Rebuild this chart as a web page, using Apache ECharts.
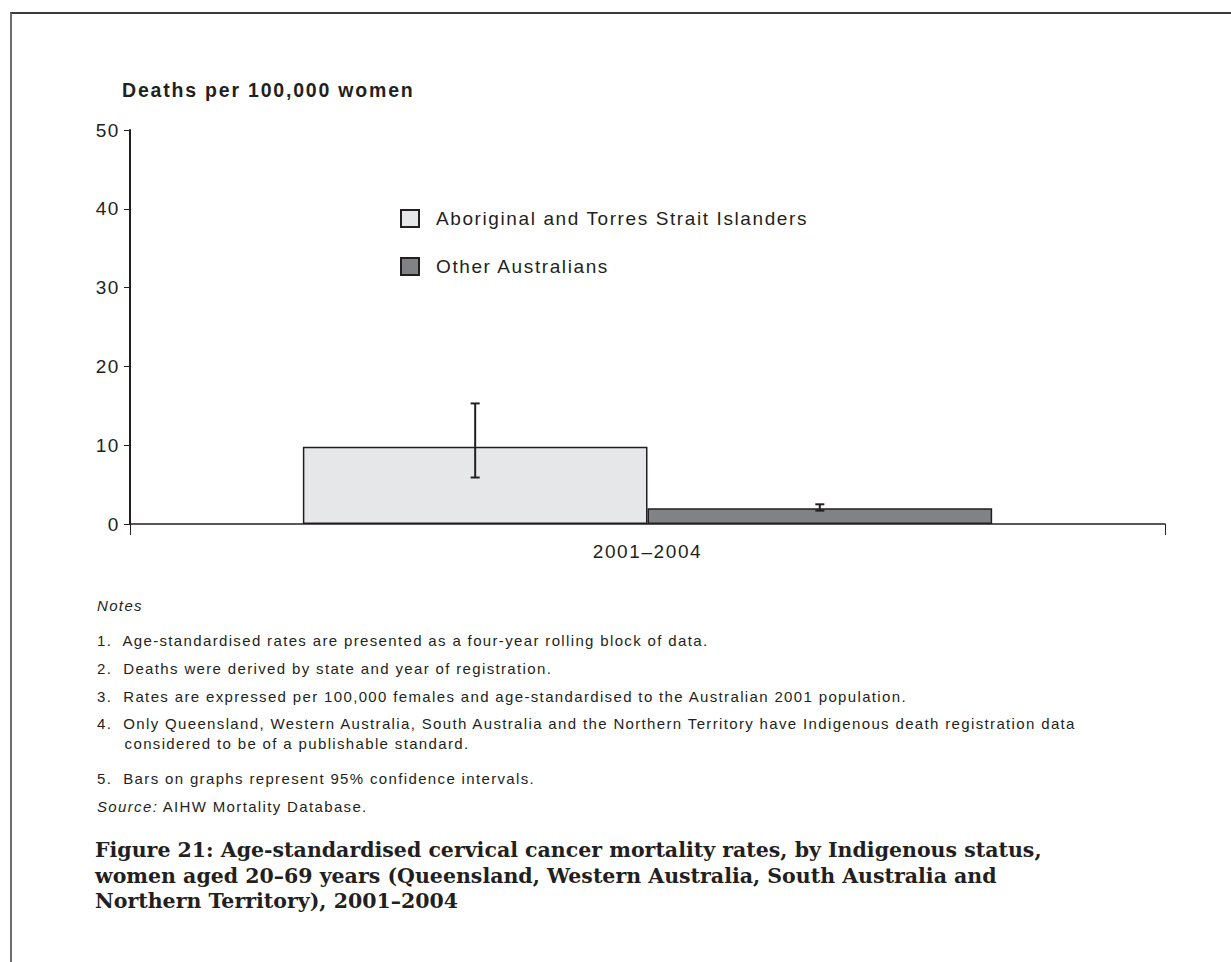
<!DOCTYPE html>
<html><head><meta charset="utf-8">
<script src="https://cdn.jsdelivr.net/npm/echarts@6/dist/echarts.min.js"></script>
<style>
html,body{margin:0;padding:0;background:#fff;}
#frame{position:absolute;left:10px;top:12px;width:1221px;height:950px;border-left:2px solid #6d6e71;border-top:2px solid #3a3a3a;box-sizing:border-box;}
#chart{position:absolute;left:0;top:0;width:1231px;height:962px;}
/* tracking of the original typesetting */
#chart text[style*="19px"]{letter-spacing:1.6px;}
#chart text[style*="19.5px"]{letter-spacing:1.8px;}
#chart text[style*="15px"]{letter-spacing:1.35px;}
</style></head>
<body><div id="frame"></div><div id="chart"></div>
<script>
// ---- data ----
const categories = ['2001–2004'];
const seriesNames = ['Aboriginal and Torres Strait Islanders', 'Other Australians'];
const indigenousRates = [9.8];
const otherRates = [2.0];
const indigenousCILow = [5.9];
const indigenousCIHigh = [15.3];
const otherCILow = [1.7];
const otherCIHigh = [2.5];
const yAxisTitle = 'Deaths per 100,000 women';
const notesHeading = 'Notes';
const notesLines = [
  '1.  Age-standardised rates are presented as a four-year rolling block of data.',
  '2.  Deaths were derived by state and year of registration.',
  '3.  Rates are expressed per 100,000 females and age-standardised to the Australian 2001 population.',
  '4.  Only Queensland, Western Australia, South Australia and the Northern Territory have Indigenous death registration data',
  '     considered to be of a publishable standard.',
  '5.  Bars on graphs represent 95% confidence intervals.'
];
const sourceLabel = 'Source:';
const sourceText = ' AIHW Mortality Database.';
const figureTitleLines = [
  'Figure 21: Age-standardised cervical cancer mortality rates, by Indigenous status,',
  'women aged 20–69 years (Queensland, Western Australia, South Australia and',
  'Northern Territory), 2001–2004'
];

// ---- layout/style ----
const INK = '#231f20';
const CAT_GAP = 0.334;
const chart = echarts.init(document.getElementById('chart'), null, {renderer: 'svg'});

function errorSeries(lows, highs, side) {
  return {
    type: 'custom',
    silent: true,
    z: 10,
    encode: {x: 0, y: [1, 2]},
    data: lows.map((lo, i) => [i, lo, highs[i]]),
    renderItem: function (params, api) {
      const idx = api.value(0);
      const pLo = api.coord([idx, api.value(1)]);
      const pHi = api.coord([idx, api.value(2)]);
      const band = api.size([1, 0])[0];
      const barW = band * (1 - CAT_GAP) / 2;
      const cx = pLo[0] + side * barW / 2;
      const cap = 4.5;
      const st = {stroke: INK, lineWidth: 2};
      return {type: 'group', children: [
        {type: 'line', shape: {x1: cx, y1: pHi[1], x2: cx, y2: pLo[1]}, style: st},
        {type: 'line', shape: {x1: cx - cap, y1: pHi[1], x2: cx + cap, y2: pHi[1]}, style: st},
        {type: 'line', shape: {x1: cx - cap, y1: pLo[1], x2: cx + cap, y2: pLo[1]}, style: st}
      ]};
    }
  };
}

const NOTE_FONT = {fontSize: 15, fontFamily: 'Liberation Sans', fill: INK};
const textEls = [];
textEls.push({type: 'text', x: 97, y: 605, style: Object.assign({text: notesHeading, fontStyle: 'italic', verticalAlign: 'middle'}, NOTE_FONT)});
const noteYs = [640, 668, 696, 723, 743, 778];
notesLines.forEach((t, i) => textEls.push({type: 'text', x: 97, y: noteYs[i], style: Object.assign({text: t, verticalAlign: 'middle'}, NOTE_FONT)}));
textEls.push({type: 'text', x: 97, y: 806, style: Object.assign({text: sourceLabel, fontStyle: 'italic', verticalAlign: 'middle'}, NOTE_FONT)});
textEls.push({type: 'text', x: 158, y: 806, style: Object.assign({text: sourceText, verticalAlign: 'middle'}, NOTE_FONT)});
const titleYs = [850, 876, 901];
figureTitleLines.forEach((t, i) => textEls.push({type: 'text', x: 95, y: titleYs[i], style: {text: t, fontSize: 20.5, fontWeight: 'bold', fontFamily: 'DejaVu Serif', fill: INK, verticalAlign: 'middle'}}));
textEls.push({type: 'text', x: 122, y: 90, style: {text: yAxisTitle, fontSize: 19.5, fontWeight: 'bold', fontFamily: 'Liberation Sans', fill: INK, verticalAlign: 'middle'}});

chart.setOption({
  animation: false,
  grid: {left: 130, right: 66, top: 130, bottom: 438},
  legend: {
    orient: 'vertical', left: 400, top: 209, padding: 0, itemWidth: 18, itemHeight: 17, itemGap: 29,
    icon: 'rect', selectedMode: false,
    data: seriesNames,
    textStyle: {fontSize: 19, fontFamily: 'Liberation Sans', color: INK, padding: [0, 0, 0, 12]}
  },
  xAxis: {
    type: 'category', data: categories,
    axisLine: {lineStyle: {color: INK, width: 1.5}},
    axisTick: {show: true, length: 11, lineStyle: {color: INK, width: 1}},
    axisLabel: {fontSize: 19, fontFamily: 'Liberation Sans', color: INK, margin: 18}
  },
  yAxis: {
    type: 'value', min: 0, max: 50, interval: 10,
    axisLine: {show: true, lineStyle: {color: INK, width: 2}},
    axisTick: {show: true, length: 6, lineStyle: {color: INK, width: 1}},
    axisLabel: {fontSize: 19, fontFamily: 'Liberation Sans', color: INK, margin: 10},
    splitLine: {show: false}
  },
  series: [
    {name: seriesNames[0], type: 'bar', data: indigenousRates, barGap: '0%', barCategoryGap: (CAT_GAP * 100) + '%',
     itemStyle: {color: '#e6e7e8', borderColor: INK, borderWidth: 1.5}},
    {name: seriesNames[1], type: 'bar', data: otherRates, barGap: '0%', barCategoryGap: (CAT_GAP * 100) + '%',
     itemStyle: {color: '#808285', borderColor: INK, borderWidth: 1.5}},
    errorSeries(indigenousCILow, indigenousCIHigh, -1),
    errorSeries(otherCILow, otherCIHigh, 1)
  ],
  graphic: textEls
});
</script>
</body></html>
